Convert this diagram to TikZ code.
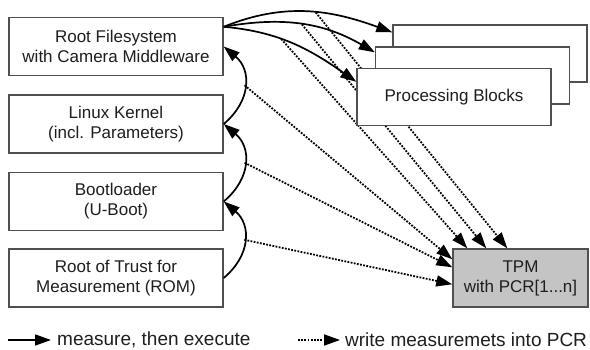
\documentclass[tikz,border=0pt]{standalone}
\usepackage{fontspec}
\setmainfont{Liberation Sans}
\usetikzlibrary{arrows.meta,backgrounds}
\definecolor{boxgray}{HTML}{505050}
\definecolor{textgray}{HTML}{1E1E1E}
\definecolor{tpmgray}{HTML}{C4C4C4}
\begin{document}
\begin{tikzpicture}[x=1pt,y=1pt,
  box/.style={draw=boxgray,line width=1.4pt,fill=white,minimum width=214pt,minimum height=58pt,
    align=center,font=\fontsize{17}{20}\selectfont,inner sep=0pt,text=textgray},
  pbox/.style={box,minimum width=194pt,minimum height=57pt},
  tpmbox/.style={box,fill=tpmgray,minimum width=135pt},
  meas/.style={line width=1.7pt,-{Triangle[length=16pt,width=11pt]}},
  wr/.style={line width=1.8pt,dash pattern=on 1.8pt off 1.4pt,-{Triangle[length=16pt,width=11pt]}},
  legtext/.style={font=\fontsize{19}{22}\selectfont,anchor=west,inner sep=0pt,text=textgray}]
\useasboundingbox (0,0) rectangle (590,350);

% left column
\node[box] (b1) at (116,303.5) {Root Filesystem\\with Camera Middleware};
\node[box] (b2) at (116,226) {Linux Kernel\\(incl. Parameters)};
\node[box] (b3) at (116,148.5) {Bootloader\\(U-Boot)};
\node[box] (b4) at (116,72) {Root of Trust for\\Measurement (ROM)};

% processing blocks stack
\node[pbox] (pb3) at (490,296.5) {};
\node[pbox] (pb2) at (472.5,274.5) {};
\node[pbox] (pb1) at (454,253) {Processing Blocks};

% TPM
\node[tpmbox] (tpm) at (520.5,72) {TPM\\with PCR[1...n]};

% measure, then execute (chain)
\draw[meas] (b4.east) to[out=40,in=-40,looseness=1.2] coordinate[pos=0.5] (m3) (b3.east);
\draw[meas] (b3.east) to[out=40,in=-40,looseness=1.2] coordinate[pos=0.5] (m2) (b2.east);
\draw[meas] (b2.east) to[out=40,in=-40,looseness=1.2] coordinate[pos=0.5] (m1) (b1.east);

% measure processing blocks
\coordinate (s) at ([yshift=-10pt]b1.north east);
\draw[meas] (s) to[out=22,in=160] coordinate[pos=0.55] (ta) ([yshift=-8pt]pb3.north west);
\draw[meas] (s) to[out=10,in=150] coordinate[pos=0.5] (tb) ([yshift=-6pt]pb2.north west);
\draw[meas] (s) to[out=-5,in=145] coordinate[pos=0.4] (tc) ([yshift=-14pt]pb1.north west);

% write measurements into PCR
\begin{scope}[on background layer]
\draw[wr] (ta) -- ([xshift=55pt]tpm.north west);
\draw[wr] (tb) -- ([xshift=34pt]tpm.north west);
\draw[wr] (tc) -- ([xshift=15pt]tpm.north west);
\draw[wr] (m1) -- ([yshift=-11pt]tpm.north west);
\draw[wr] (m2) -- ([yshift=-19pt]tpm.north west);
\draw[wr] (m3) -- ([yshift=-36pt]tpm.north west);
\end{scope}

% legend
\coordinate (la) at (8,10);
\node[legtext] (lt1) at (57,10.5) {measure, then execute};
\draw[meas] (la) -- ([xshift=-6pt,yshift=-0.5pt]lt1.west);
\coordinate (lb) at (298,10);
\node[legtext] (lt2) at (345,10.5) {write measuremets into PCR};
\draw[wr] (lb) -- ([xshift=-5pt,yshift=-0.5pt]lt2.west);
\end{tikzpicture}
\end{document}
